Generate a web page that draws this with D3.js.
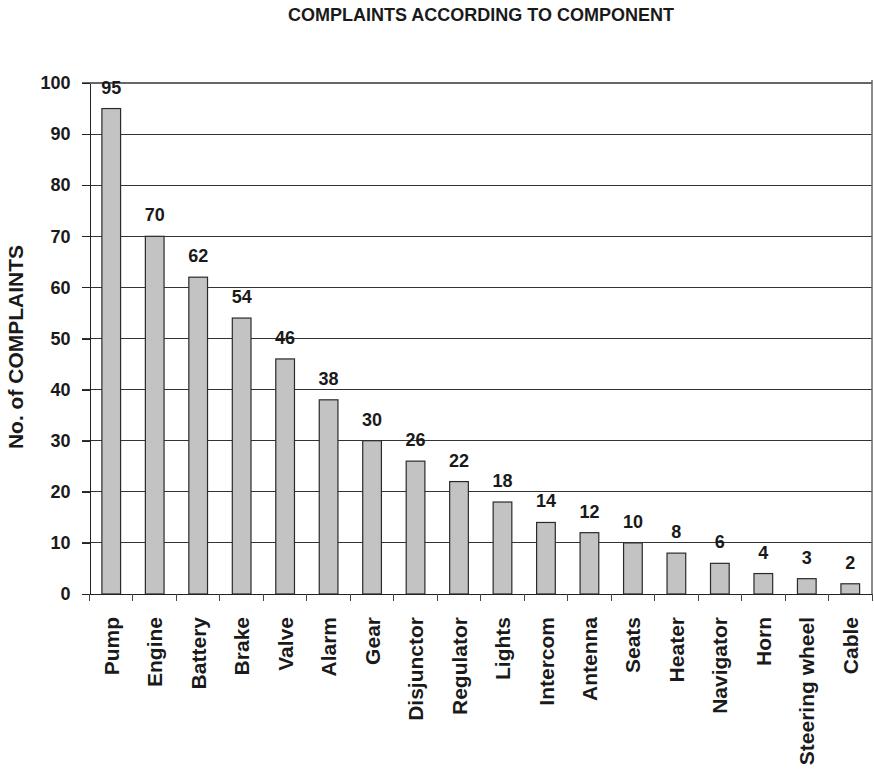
<!DOCTYPE html>
<html lang="en">
<head>
  <meta charset="UTF-8">
  <title>Complaints according to component</title>
  <script src="https://d3js.org/d3.v7.min.js"></script>
  <style>
    body {
      margin: 0;
      background: #fff;
      font-family: "Liberation Sans", Arial, sans-serif;
    }
    svg text {
      font-weight: bold;
      fill: #1a1a1a;
    }
    .axis path,
    .axis line {
      stroke: #222;
      shape-rendering: crispEdges;
    }
    .grid line {
      stroke: #333;
      shape-rendering: crispEdges;
    }
    .bar {
      fill: #c3c3c3;
      stroke: #2a2a2a;
      stroke-width: 1.2;
    }
  </style>
</head>
<body>
<script>
  // Data
  const components = ["Pump", "Engine", "Battery", "Brake", "Valve", "Alarm", "Gear",
    "Disjunctor", "Regulator", "Lights", "Intercom", "Antenna", "Seats", "Heater",
    "Navigator", "Horn", "Steering wheel", "Cable"];
  const complaints = [95, 70, 62, 54, 46, 38, 30, 26, 22, 18, 14, 12, 10, 8, 6, 4, 3, 2];
  const yTicks = [0, 10, 20, 30, 40, 50, 60, 70, 80, 90, 100];

  const data = components.map((c, i) => ({ name: c, value: complaints[i] }));

  const width = 874;
  const height = 770;
  const margin = { top: 83, right: 2, bottom: 176, left: 89.5 };

  const svg = d3.select("body").append("svg")
    .attr("width", width)
    .attr("height", height);

  const x = d3.scaleBand()
    .domain(components)
    .range([margin.left, width - margin.right])
    .paddingInner(0.57)
    .paddingOuter(0.285);

  const y = d3.scaleLinear()
    .domain([0, 100])
    .range([height - margin.bottom, margin.top]);

  // title
  svg.append("text")
    .attr("x", 481)
    .attr("y", 21)
    .attr("text-anchor", "middle")
    .style("font-size", "18px")
    .text("COMPLAINTS ACCORDING TO COMPONENT");

  // grid lines
  svg.append("g")
    .attr("class", "grid")
    .selectAll("line")
    .data(yTicks.filter(d => d > 0))
    .join("line")
    .attr("x1", margin.left - 8)
    .attr("x2", width - margin.right)
    .attr("y1", d => y(d))
    .attr("y2", d => y(d))
    .style("stroke", d => d === 100 ? "#666" : "#333")
    .style("stroke-width", d => d === 100 ? 1.5 : 1);

  // right border
  svg.append("line")
    .attr("x1", width - margin.right)
    .attr("x2", width - margin.right)
    .attr("y1", y(100) - 3)
    .attr("y2", y(0))
    .style("stroke", "#666")
    .style("stroke-width", 1.5);

  // y axis
  const yAxis = svg.append("g")
    .attr("class", "axis")
    .attr("transform", `translate(${margin.left},0)`)
    .call(d3.axisLeft(y).tickValues(yTicks).tickSize(8).tickPadding(11).tickSizeOuter(0));
  yAxis.selectAll("text")
    .style("font-size", "18px");

  // bars
  svg.selectAll(".bar")
    .data(data)
    .join("rect")
    .attr("class", "bar")
    .attr("x", d => x(d.name))
    .attr("y", d => y(d.value))
    .attr("width", x.bandwidth())
    .attr("height", d => y(0) - y(d.value));

  // value labels
  svg.selectAll(".value")
    .data(data)
    .join("text")
    .attr("class", "value")
    .attr("x", d => x(d.name) + x.bandwidth() / 2)
    .attr("y", d => y(d.value) - 15)
    .attr("text-anchor", "middle")
    .style("font-size", "18px")
    .text(d => d.value);

  // x axis line with ticks at band edges
  const step = x.step();
  const edges = d3.range(components.length + 1).map(i => margin.left + i * step);
  svg.append("line")
    .attr("class", "axisline")
    .attr("x1", margin.left)
    .attr("x2", width - margin.right)
    .attr("y1", y(0))
    .attr("y2", y(0))
    .style("stroke", "#222")
    .style("shape-rendering", "crispEdges");
  svg.append("g")
    .selectAll("line")
    .data(edges)
    .join("line")
    .attr("x1", d => d)
    .attr("x2", d => d)
    .attr("y1", y(0))
    .attr("y2", y(0) + 7)
    .style("stroke", "#444")
    .style("shape-rendering", "crispEdges");

  // category labels
  svg.selectAll(".cat")
    .data(components)
    .join("text")
    .attr("class", "cat")
    .attr("transform", d => `translate(${x(d) + x.bandwidth() / 2},${y(0) + 23}) rotate(-90)`)
    .attr("dy", "0.36em")
    .attr("text-anchor", "end")
    .style("font-size", "21px")
    .text(d => d);

  // y axis title
  svg.append("text")
    .attr("transform", "translate(23,347) rotate(-90)")
    .attr("text-anchor", "middle")
    .style("font-size", "21px")
    .text("No. of COMPLAINTS");
</script>
</body>
</html>
